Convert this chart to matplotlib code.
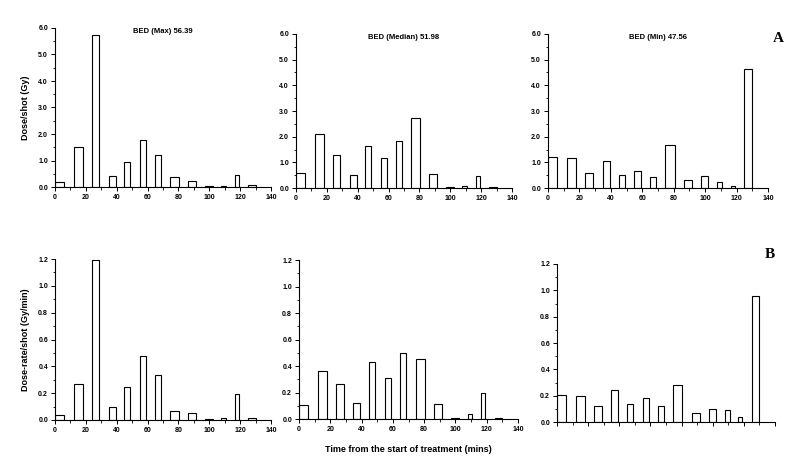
import matplotlib
matplotlib.use("Agg")
import matplotlib.pyplot as plt
from matplotlib.ticker import MultipleLocator, FormatStrFormatter

plt.rcParams['font.family'] = ['Liberation Sans', 'DejaVu Sans']

# -------------------------
# DATA
# -------------------------
# shot start times (mins) and shot durations (mins)
shot_start = [0, 12, 23.7, 34.7, 44.9, 55, 64.7, 74.5, 86.5, 97.3, 107.8, 116.5, 125]
shot_width = [6.0, 6.0, 5.1, 4.6, 4.0, 4.0, 3.9, 6.0, 5.2, 4.8, 3.0, 2.6, 5.0]

dose_max = [0.18, 1.52, 5.75, 0.40, 0.93, 1.78, 1.22, 0.37, 0.22, 0.05, 0.02, 0.47, 0.07]
dose_median = [0.60, 2.10, 1.27, 0.50, 1.62, 1.15, 1.82, 2.73, 0.56, 0.04, 0.06, 0.46, 0.02]
dose_min = [1.20, 1.15, 0.57, 1.05, 0.50, 0.68, 0.42, 1.67, 0.32, 0.45, 0.22, 0.08, 4.62]

rate_max = [0.035, 0.266, 1.19, 0.095, 0.249, 0.475, 0.336, 0.065, 0.05, 0.01, 0.015, 0.197, 0.017]
rate_median = [0.103, 0.36, 0.262, 0.118, 0.428, 0.307, 0.496, 0.453, 0.116, 0.01, 0.035, 0.194, 0.005]
rate_min = [0.205, 0.197, 0.121, 0.243, 0.139, 0.184, 0.119, 0.278, 0.068, 0.099, 0.088, 0.035, 0.955]

titles = ["BED (Max) 56.39", "BED (Median) 51.98", "BED (Min) 47.56"]

W, H = 796, 473

# -------------------------
# HELPERS
# -------------------------
def px_axes(fig, left, right, top, bottom):
    return fig.add_axes([left / W, 1 - bottom / H, (right - left) / W, (bottom - top) / H])


def style_axes(ax, ymax, ymajor, yminor, show_xlabels=True):
    ax.set_xlim(0, 140)
    ax.set_ylim(0, ymax)
    ax.xaxis.set_major_locator(MultipleLocator(20))
    ax.xaxis.set_minor_locator(MultipleLocator(10))
    ax.yaxis.set_major_locator(MultipleLocator(ymajor))
    ax.yaxis.set_minor_locator(MultipleLocator(yminor))
    ax.yaxis.set_major_formatter(FormatStrFormatter('%.1f'))
    for s in ['top', 'right']:
        ax.spines[s].set_visible(False)
    for s in ['left', 'bottom']:
        ax.spines[s].set_linewidth(0.8)
    ax.tick_params(which='major', direction='out', length=3, width=0.7, labelsize=5, pad=2)
    ax.tick_params(which='minor', direction='out', length=1.8, width=0.6)
    for lab in ax.get_xticklabels() + ax.get_yticklabels():
        lab.set_fontweight('bold')
    if not show_xlabels:
        ax.set_xticklabels([])


def draw_bars(ax, heights):
    ax.bar(shot_start, heights, width=shot_width, align='edge',
           facecolor='white', edgecolor='black', linewidth=0.8)


fig = plt.figure(figsize=(W / 100, H / 100), dpi=100)

# -------------------------
# ROW A: dose per shot
# -------------------------
ax1 = px_axes(fig, 55, 271, 28, 187)
ax2 = px_axes(fig, 296, 512, 34, 188)
ax3 = px_axes(fig, 548, 768, 34, 188)

for ax, d, t in zip([ax1, ax2, ax3], [dose_max, dose_median, dose_min], titles):
    draw_bars(ax, d)
    style_axes(ax, 6.0, 1.0, 0.5)
    ax.text(0.5, 0.975, t, transform=ax.transAxes, ha='center', va='center',
            fontsize=5.5, fontweight='bold')

ax1.set_ylabel("Dose/shot (Gy)", fontsize=6.5, fontweight='bold', labelpad=6)

# -------------------------
# ROW B: dose-rate per shot
# -------------------------
ax4 = px_axes(fig, 55, 271, 259, 420)
ax5 = px_axes(fig, 299, 518, 260, 419)
ax6 = px_axes(fig, 557, 775, 264, 422)

for ax, r in zip([ax4, ax5, ax6], [rate_max, rate_median, rate_min]):
    draw_bars(ax, r)
    style_axes(ax, 1.2, 0.2, 0.1, show_xlabels=(ax is not ax6))

ax4.set_ylabel("Dose-rate/shot (Gy/min)", fontsize=6.5, fontweight='bold', labelpad=6)
ax5.set_xlabel("Time from the start of treatment (mins)", fontsize=6.5,
               fontweight='bold', labelpad=9)

# panel letters
fig.text(778 / W, 1 - 38 / H, "A", fontsize=11, fontweight='bold',
         family='Liberation Serif', ha='center', va='center')
fig.text(770 / W, 1 - 254 / H, "B", fontsize=11, fontweight='bold',
         family='Liberation Serif', ha='center', va='center')

plt.savefig("out.png", dpi=100)
